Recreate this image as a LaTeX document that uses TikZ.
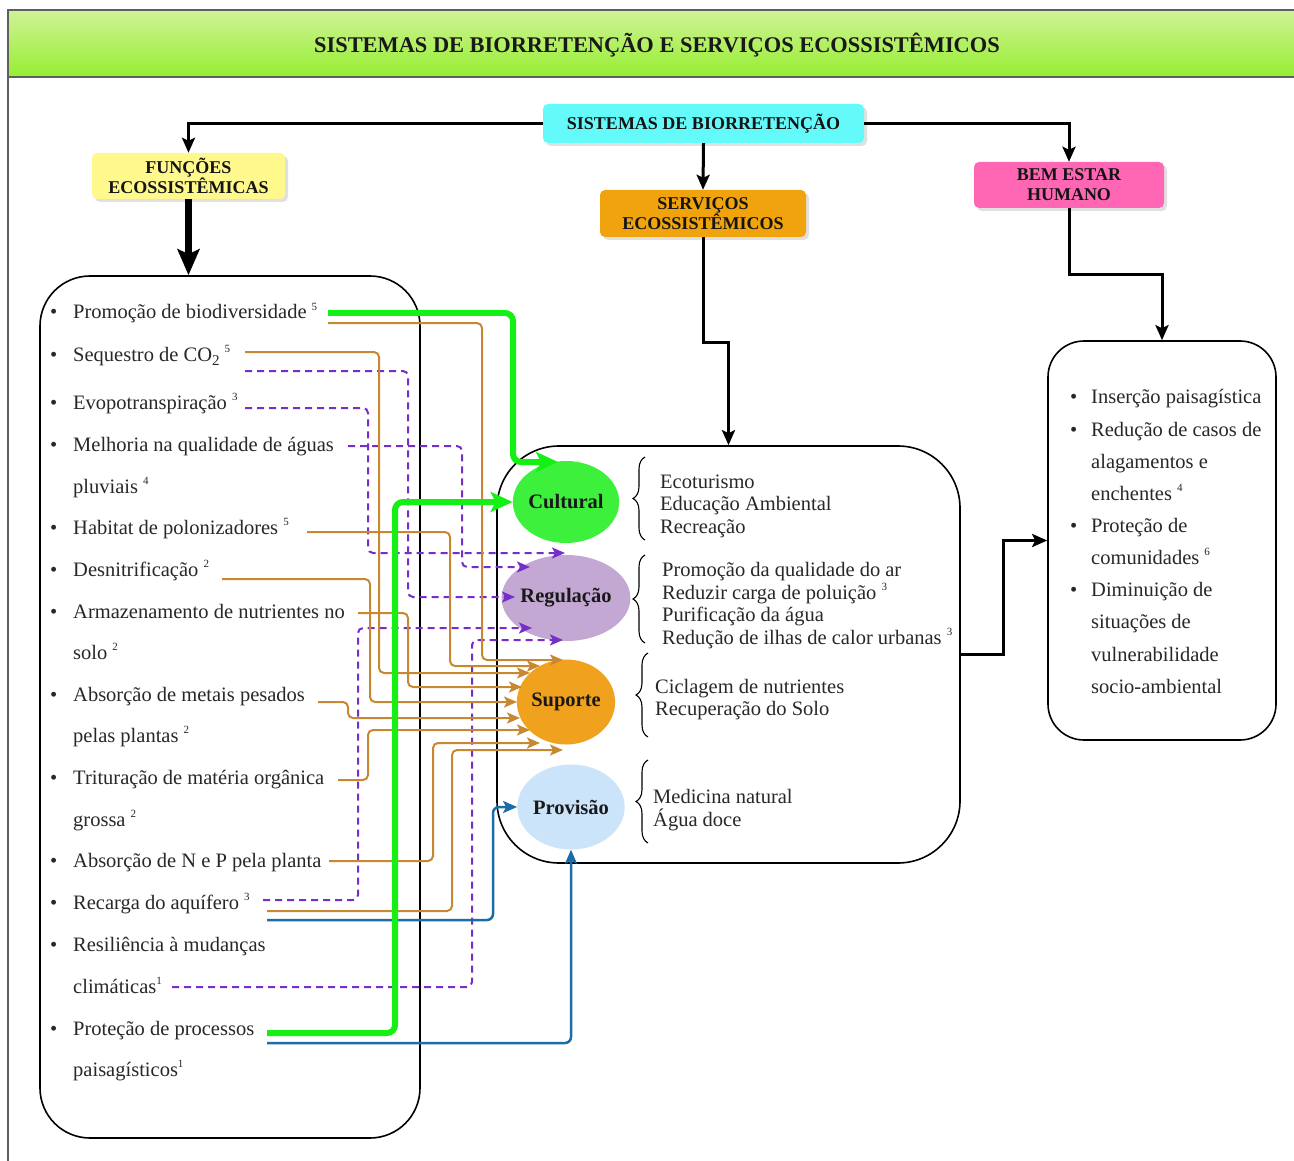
\documentclass[tikz,border=0pt]{standalone}
\usepackage{fontspec}
\setmainfont{Liberation Serif}
\usetikzlibrary{arrows.meta,decorations.pathreplacing,shapes.geometric}

\definecolor{framec}{RGB}{95,95,95}
\definecolor{titletop}{RGB}{208,242,150}
\definecolor{titlebot}{RGB}{150,238,50}
\definecolor{cyanc}{RGB}{100,250,250}
\definecolor{yellowc}{RGB}{255,248,140}
\definecolor{orangec}{RGB}{240,163,12}
\definecolor{pinkc}{RGB}{255,102,180}
\definecolor{cultc}{RGB}{60,240,60}
\definecolor{regc}{RGB}{194,168,211}
\definecolor{supc}{RGB}{240,162,30}
\definecolor{provc}{RGB}{204,228,250}
\definecolor{greenc}{RGB}{20,240,20}
\definecolor{brownc}{RGB}{200,136,50}
\definecolor{purplec}{RGB}{118,46,200}
\definecolor{bluec}{RGB}{28,108,168}
\definecolor{txt}{RGB}{40,40,40}

\newcommand{\sps}[1]{\raisebox{0.42em}{\fontsize{11}{11}\selectfont #1}}
\newcommand{\subtwo}{\raisebox{-0.22em}{\fontsize{15}{15}\selectfont 2}}
\newcommand{\lf}{\fontsize{20.5}{24}\selectfont}

\begin{document}
\begin{tikzpicture}[x=1pt,y=-1pt,
  every node/.style={inner sep=0pt},
  hdr/.style={rounded corners=5pt, font=\bfseries\fontsize{18}{20}\selectfont, text=black!92, align=center},
  bigbox/.style={draw=black, line width=1.6pt, fill=white},
  circ/.style={ellipse, font=\bfseries\lf, text=black!90},
  item/.style={anchor=base west, font=\lf, text=txt},
  bul/.style={anchor=base west, font=\lf, text=txt},
  blk/.style={draw=black, line width=3pt, -{Stealth[length=15pt,width=13pt,inset=3pt]}},
  blkthick/.style={draw=black, line width=7pt, -{Stealth[length=26pt,width=22pt,inset=5pt]}},
  gr/.style={draw=greenc, line width=6pt, rounded corners=8pt, -{Stealth[length=22pt,width=20pt,inset=5pt]}},
  br/.style={draw=brownc, line width=2pt, rounded corners=5pt, -{Stealth[length=13pt,width=11pt,inset=3pt]}},
  pu/.style={draw=purplec, line width=2pt, dash pattern=on 7pt off 5pt, rounded corners=5pt, -{Stealth[length=13pt,width=11pt,inset=3pt]}},
  bl/.style={draw=bluec, line width=2.5pt, rounded corners=6pt, -{Stealth[length=14pt,width=12pt,inset=3pt]}},
  brc/.style={draw=black, line width=1.1pt, decorate, decoration={brace, amplitude=12pt}},
  shade box/.style={fill=black, opacity=0.12, rounded corners=5pt}
]
\useasboundingbox (0,0) rectangle (1294,1161);
\fill[white] (0,0) rectangle (1294,1161);

% frame and title band
\shade[top color=titletop, bottom color=titlebot] (8,10) rectangle (1310,77);
\draw[framec, line width=1.6pt] (1310,10) -- (8,10) -- (8,1180);
\draw[framec, line width=1.6pt] (8,77) -- (1310,77);
\node[font=\bfseries\fontsize{22.4}{26}\selectfont, text=black!90] (title) at (657,45) {SISTEMAS DE BIORRETENÇÃO E SERVIÇOS ECOSSISTÊMICOS};

% main boxes
\node[bigbox, rounded corners=50pt, minimum width=380pt, minimum height=862pt] (lbox) at (230,707) {};
\node[bigbox, rounded corners=62pt, minimum width=463pt, minimum height=417pt] (cbox) at (728.5,654.5) {};
\node[bigbox, rounded corners=36pt, minimum width=228pt, minimum height=399pt] (rbox) at (1162,540.5) {};

% soft shadows under the header boxes
\fill[shade box] (546,107) rectangle (867,146);
\fill[shade box] (95,156) rectangle (288,202);
\fill[shade box] (603,193) rectangle (809,240);
\fill[shade box] (977,165) rectangle (1167,211);

% header boxes
\node[hdr, fill=cyanc, minimum width=321pt, minimum height=39pt] (sb) at (703.5,123.5) {SISTEMAS DE BIORRETENÇÃO};
\node[hdr, fill=yellowc, minimum width=193pt, minimum height=46pt] (fe) at (188.5,176) {FUNÇÕES\\ECOSSISTÊMICAS};
\node[hdr, fill=orangec, minimum width=206pt, minimum height=47pt] (se) at (703,213.5) {SERVIÇOS\\ECOSSISTÊMICOS};
\node[hdr, fill=pinkc, minimum width=190pt, minimum height=46pt] (be) at (1069,185) {BEM ESTAR\\HUMANO};

% black flow arrows
\draw[blk] (sb.west) -| (fe.north);
\draw[blk] (sb.east) -| (be.north);
\draw[blk] (sb.south) -- (se.north);
\draw[blkthick] (fe.south) -- (fe.south |- lbox.north);
\draw[blk] (se.south) -- ++(0,105) -| (cbox.north);
\draw[blk] (be.south) -- ++(0,66) -| (rbox.north);
\draw[blk] (cbox.east) -- ++(43,0) |- (rbox.west);

% service circles
\node[circ, fill=cultc, minimum width=86pt, minimum height=82pt] (cult) at (566,502) {Cultural};
\node[circ, fill=regc, minimum width=92pt, minimum height=86pt] (reg) at (566,598) {Regulação};
\node[circ, fill=supc, minimum width=93pt, minimum height=85pt] (sup) at (566,702) {Suporte};
\node[circ, fill=provc, minimum width=92pt, minimum height=85pt] (prov) at (571,807) {Provisão};

% connector end points
\coordinate (g1s) at (328,313);   \coordinate (g1e) at (558,462);
\coordinate (g2s) at (267,1033);
\coordinate (bAs) at (328,323);   \coordinate (bAe) at (563,660);
\coordinate (bBs) at (245,352);   \coordinate (bBe) at (530,673);
\coordinate (bHs) at (307,532);   \coordinate (bHe) at (540,666);
\coordinate (bDs) at (222,579);   \coordinate (bDe) at (517,702);
\coordinate (bNs) at (358,613);   \coordinate (bNe) at (522,687);
\coordinate (bMs) at (318,702);   \coordinate (bMe) at (520,718);
\coordinate (bTs) at (338,780);   \coordinate (bTe) at (530,730);
\coordinate (bPs) at (329,861);   \coordinate (bPe) at (540,743);
\coordinate (bRs) at (267,911);   \coordinate (bRe) at (563,750);
\coordinate (p1s) at (245,371);   \coordinate (p1e) at (515,597);
\coordinate (p2s) at (245,408);   \coordinate (p2e) at (565,553);
\coordinate (p3s) at (348,446);   \coordinate (p3e) at (530,567);
\coordinate (p4s) at (263,900);   \coordinate (p4e) at (532,628);
\coordinate (p5s) at (172,987);   \coordinate (p5e) at (563,640);
\coordinate (u1s) at (267,920);
\coordinate (u2s) at (267,1043);

% regulation links (dashed)
\draw[pu] (p1s) -| (408,597) -- (p1e);
\draw[pu] (p2s) -| (368,553) -- (p2e);
\draw[pu] (p3s) -| (462,567) -- (p3e);
\draw[pu] (p4s) -| (358,628) -- (p4e);
\draw[pu] (p5s) -| (472,640) -- (p5e);

% support links
\draw[br] (bAs) -| (482,660) -- (bAe);
\draw[br] (bBs) -| (379,673) -- (bBe);
\draw[br] (bHs) -| (450,666) -- (bHe);
\draw[br] (bDs) -| (370,702) -- (bDe);
\draw[br] (bNs) -| (408,687) -- (bNe);
\draw[br] (bMs) -| (348,718) -- (bMe);
\draw[br] (bTs) -| (368,730) -- (bTe);
\draw[br] (bPs) -| (433,743) -- (bPe);
\draw[br] (bRs) -| (452,750) -- (bRe);

% provision links
\draw[bl] (u1s) -| (493,807) -- (prov.west);
\draw[bl] (u2s) -| (prov.south);

% cultural links
\draw[gr] (g1s) -| (513,462) -- (g1e);
\draw[gr] (g2s) -| (395,502) -- (cult.west);

% braces
\draw[brc] (645,540) -- (645,457);
\draw[brc] (645,643) -- (645,555);
\draw[brc] (648,737) -- (648,653);
\draw[brc] (648,843) -- (648,760);

% service descriptions
\node[item] (c1) at (660,488) {Ecoturismo};
\node[item] (c2) at (660,510) {Educação Ambiental};
\node[item] (c3) at (660,533) {Recreação};
\node[item] (r1) at (662,576) {Promoção da qualidade do ar};
\node[item] (r2) at (662,599) {Reduzir carga de poluição \sps{3}};
\node[item] (r3) at (662,621) {Purificação da água};
\node[item] (r4) at (662,644) {Redução de ilhas de calor urbanas \sps{3}};
\node[item] (s1) at (655,693) {Ciclagem de nutrientes};
\node[item] (s2) at (655,715) {Recuperação do Solo};
\node[item] (v1) at (653,803) {Medicina natural};
\node[item] (v2) at (653,826) {Água doce};

% ecosystem functions list
\foreach \y/\n in {313/1,355/2,403/3,445/4,528/5,570/6,612/7,695/8,778/9,861/10,903/11,945/12,1029/13}
  \node[bul] (fb\n) at (50,\y+6) {•};
\node[item] (f1) at (73,319) {Promoção de biodiversidade \sps{5}};
\node[item] (f2) at (73,361) {Sequestro de CO\subtwo\ \sps{5}};
\node[item] (f3) at (73,409) {Evopotranspiração \sps{3}};
\node[item] (f4a) at (73,451) {Melhoria na qualidade de águas};
\node[item] (f4b) at (73,493) {pluviais \sps{4}};
\node[item] (f5) at (73,534) {Habitat de polonizadores \sps{5}};
\node[item] (f6) at (73,576) {Desnitrificação \sps{2}};
\node[item] (f7a) at (73,618) {Armazenamento de nutrientes no};
\node[item] (f7b) at (73,659) {solo \sps{2}};
\node[item] (f8a) at (73,701) {Absorção de metais pesados};
\node[item] (f8b) at (73,742) {pelas plantas \sps{2}};
\node[item] (f9a) at (73,784) {Trituração de matéria orgânica};
\node[item] (f9b) at (73,826) {grossa \sps{2}};
\node[item] (f10) at (73,867) {Absorção de N e P pela planta};
\node[item] (f11) at (73,909) {Recarga do aquífero \sps{3}};
\node[item] (f12a) at (73,951) {Resiliência à mudanças};
\node[item] (f12b) at (73,993) {climáticas\sps{1}};
\node[item] (f13a) at (73,1035) {Proteção de processos};
\node[item] (f13b) at (73,1076) {paisagísticos\sps{1}};

% human well-being list
\foreach \y/\n in {397/1,430/2,526/3,590/4}
  \node[bul] (hb\n) at (1070,\y+6) {•};
\node[item] (h1) at (1091,403) {Inserção paisagística};
\node[item] (h2a) at (1091,436) {Redução de casos de};
\node[item] (h2b) at (1091,468) {alagamentos e};
\node[item] (h2c) at (1091,500) {enchentes \sps{4}};
\node[item] (h3a) at (1091,532) {Proteção de};
\node[item] (h3b) at (1091,564) {comunidades \sps{6}};
\node[item] (h4a) at (1091,596) {Diminuição de};
\node[item] (h4b) at (1091,628) {situações de};
\node[item] (h4c) at (1091,661) {vulnerabilidade};
\node[item] (h4d) at (1091,693) {socio-ambiental};
\end{tikzpicture}
\end{document}
